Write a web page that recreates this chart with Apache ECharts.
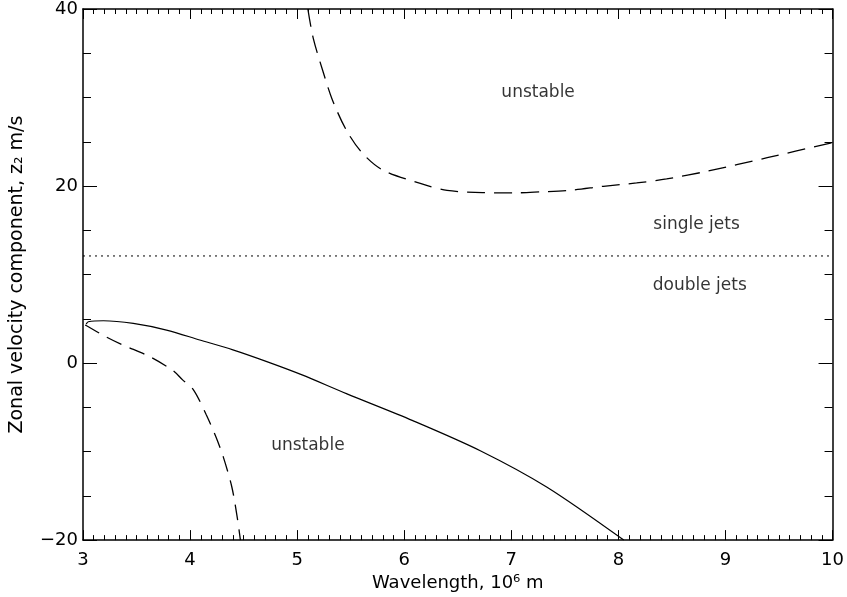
<!DOCTYPE html>
<html>
<head>
<meta charset="utf-8">
<script src="https://cdn.jsdelivr.net/npm/echarts@6/dist/echarts.min.js"></script>
<style>html,body{margin:0;padding:0;background:#fff;}#c{width:847px;height:597px;}</style>
</head>
<body>
<div id="c"></div>
<script>
// Data
var xTicks = [3, 4, 5, 6, 7, 8, 9, 10];
var yTicks = [-20, 0, 20, 40];
var upperDashed = [[5.10,40],[5.15,36.7],[5.24,33.0],[5.33,29.7],[5.46,26.3],[5.61,23.7],[5.80,21.8],[6.15,20.3],[6.40,19.5],[6.73,19.26],[7.01,19.22],[7.27,19.34],[7.55,19.52],[7.86,19.97],[8.17,20.35],[8.45,20.8],[8.84,21.7],[9.39,23.2],[10,24.9]];
var lowerDashed = [[3.02,4.3],[3.05,4.1],[3.21,3.0],[3.37,2.05],[3.62,0.75],[3.84,-0.85],[3.93,-1.9],[4.03,-3.0],[4.15,-5.8],[4.24,-8.3],[4.31,-10.6],[4.39,-14.0],[4.44,-17.4],[4.47,-20]];
var solidCurve = [[3.03,4.4],[3.05,4.67],[3.19,4.78],[3.47,4.48],[3.78,3.73],[4.09,2.61],[4.40,1.49],[4.71,0.19],[5.04,-1.31],[5.46,-3.45],[6.08,-6.5],[6.71,-9.9],[7.33,-14.0],[8.05,-20]];
var dottedLine = [[3,12.1],[10,12.1]];
var regionLabels = [
  {name:'unstable', value:[7.25,30.6]},
  {name:'single jets', value:[8.73,15.7]},
  {name:'double jets', value:[8.76,8.7]},
  {name:'unstable', value:[5.1,-9.3]}
];

var font = 'DejaVu Sans';
var chart = echarts.init(document.getElementById('c'), null, {renderer:'canvas'});
function xAx(pos, showLabel, name){
  return {
    type:'value', position:pos, min:xTicks[0], max:xTicks[xTicks.length-1], interval:1,
    name: name || '', nameLocation:'middle', nameGap:31,
    nameTextStyle:{color:'#000', fontFamily:font, fontSize:18},
    axisLine:{show:true, onZero:false, lineStyle:{color:'#000', width:1.5}},
    axisTick:{show:true, inside:true, length:10, lineStyle:{color:'#000', width:1}},
    minorTick:{show:true, splitNumber:10, length:5, lineStyle:{color:'#000', width:1}},
    axisLabel:{show:showLabel, color:'#000', fontFamily:font, fontSize:18, margin:11},
    splitLine:{show:false}
  };
}
function yAx(pos, showLabel, name){
  return {
    type:'value', position:pos, min:yTicks[0], max:yTicks[yTicks.length-1], interval:20,
    name: name || '', nameLocation:'middle', nameGap:56,
    nameTextStyle:{color:'#000', fontFamily:font, fontSize:19},
    axisLine:{show:true, onZero:false, lineStyle:{color:'#000', width:1.5}},
    axisTick:{show:true, inside:true, length:14, lineStyle:{color:'#000', width:1}},
    minorTick:{show:true, splitNumber:4, length:8, lineStyle:{color:'#000', width:1}},
    axisLabel:{show:showLabel, color:'#000', fontFamily:font, fontSize:18, margin:5,
      formatter:function(v){ return v < 0 ? '\u2212' + Math.abs(v) : String(v); }},
    splitLine:{show:false}
  };
}
chart.setOption({
  animation:false,
  backgroundColor:'#fff',
  grid:{left:83, right:14, top:8, bottom:55},
  xAxis:[xAx('bottom', true, 'Wavelength, 10\u2076 m'), xAx('top', false)],
  yAxis:[yAx('left', true, 'Zonal velocity component, z\u2082 m/s'), yAx('right', false)],
  series:[
    {type:'line', data:upperDashed, smooth:0.3, showSymbol:false, lineStyle:{color:'#000', width:1.3, type:[18,9]}},
    {type:'line', data:lowerDashed, smooth:0.3, showSymbol:false, lineStyle:{color:'#000', width:1.3, type:[16,9]}},
    {type:'line', data:solidCurve, smooth:0.3, showSymbol:false, lineStyle:{color:'#000', width:1.2}},
    {type:'line', data:dottedLine, showSymbol:false, lineStyle:{color:'#000', width:1, type:[2,4]}},
    {type:'scatter', data:regionLabels, symbolSize:0,
      label:{show:true, position:'inside', formatter:'{b}', color:'#000', fontFamily:font, fontSize:17}}
  ]
});
</script>
</body>
</html>
